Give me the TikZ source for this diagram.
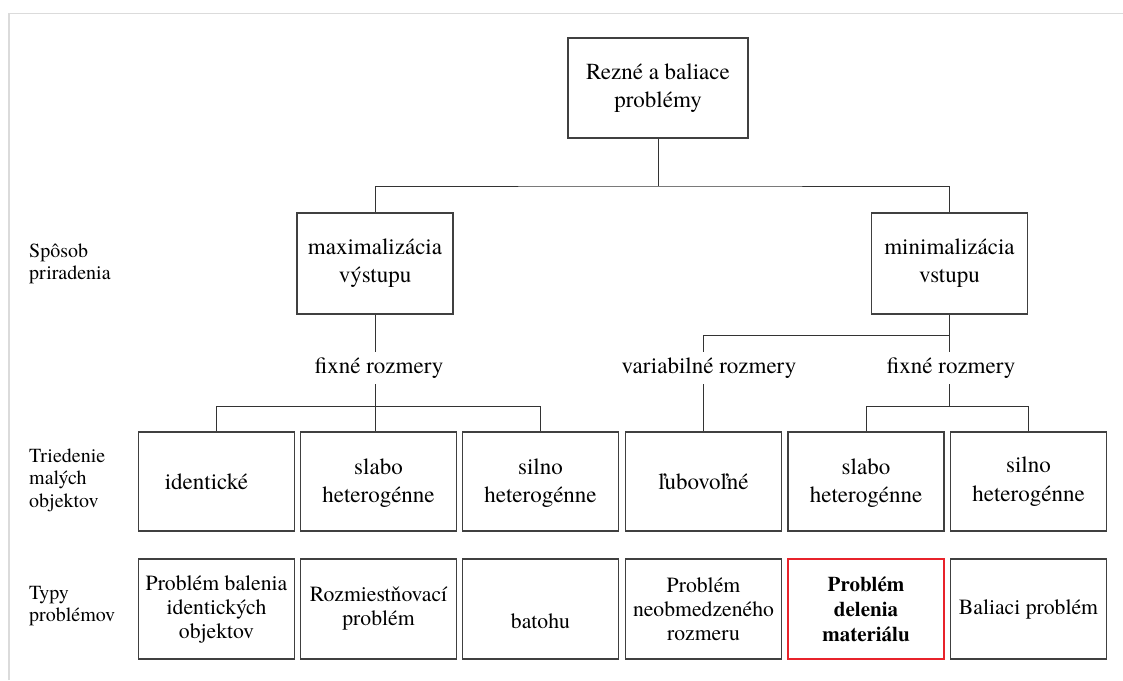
\documentclass[tikz,border=0pt]{standalone}
\usepackage{fontspec}
\setmainfont{texgyretermes}[Extension=.otf, UprightFont=*-regular, BoldFont=*-bold, ItalicFont=*-italic, BoldItalicFont=*-bolditalic]
\begin{document}
\begin{tikzpicture}[x=1pt,y=-1pt,
  box/.style={draw=black!75, line width=1.1pt, inner sep=0pt, align=center, text=black},
  bigbox/.style={box, minimum width=156pt, minimum height=101pt, font=\fontsize{23}{28}\selectfont},
  rowa/.style={box, minimum width=156pt, minimum height=99pt, font=\fontsize{23}{28.5}\selectfont},
  rowb/.style={box, minimum width=156pt, minimum height=100pt, font=\fontsize{21.7}{24}\selectfont},
  hibox/.style={rowb, draw={rgb,255:red,232;green,35;blue,43}, line width=2.4pt, font=\bfseries\fontsize{21}{25}\selectfont},
  lbl/.style={inner sep=0pt, minimum height=32pt, font=\fontsize{23}{28}\selectfont},
  side/.style={inner sep=0pt, anchor=west, align=left, font=\fontsize{20}{22.5}\selectfont},
  conn/.style={draw=black!80, line width=1pt}
]
\useasboundingbox (0,0) rectangle (1123,680);
\draw[black!14, line width=1.6pt] (9,680) -- (9,13.5) -- (1123,13.5);

% nodes
\node[box, minimum width=180pt, minimum height=100pt, font=\fontsize{23}{28}\selectfont] (root) at (658,88) {Rezné a baliace\\problémy};
\node[bigbox] (max) at (375,263.5) {maximalizácia\\výstupu};
\node[bigbox] (min) at (949.5,263.5) {minimalizácia\\vstupu};

\node[lbl] (fixL) at (379,368) {fixné rozmery};
\node[lbl] (varL) at (709,368) {variabilné rozmery};
\node[lbl] (fixR) at (951,368) {fixné rozmery};

\node[rowa] (a1) at (216.5,481.5) {\hspace*{-20pt}\raisebox{-1.5pt}{identické}};
\node[rowa] (a2) at (378.5,481.5) {slabo\\heterogénne\\[-26.5pt]\mbox{}};
\node[rowa] (a3) at (540.5,481.5) {silno\\heterogénne\\[-26.5pt]\mbox{}};
\node[rowa] (a4) at (703.5,481.5) {\raisebox{-1.5pt}{ľubovoľné}};
\node[rowa] (a5) at (866,481.5) {slabo\\heterogénne\\[-26.5pt]\mbox{}};
\node[rowa] (a6) at (1028.5,481.5) {silno\\heterogénne\\[-24pt]\mbox{}};

\node[rowb] (b1) at (216.5,609) {Problém balenia\\identických\\objektov};
\node[rowb] (b2) at (378.5,609) {Rozmiestňovací\\problém};
\node[rowb] (b3) at (540.5,609) {\smash{\raisebox{-19pt}{batohu}}};
\node[rowb] (b4) at (703.5,609) {Problém\\neobmedzeného\\rozmeru};
\node[hibox] (b5) at (866,609) {Problém\\delenia\\materiálu};
\node[rowb] (b6) at (1028.5,609) {Baliaci problém};

\node[side] (s1) at (29,264) {Spôsob\\priradenia};
\node[side] (s2) at (29,480) {Triedenie\\malých\\objektov};
\node[side] (s3) at (29,606) {Typy\\problémov};

% connectors
\coordinate (j1) at (root.south |- 0,186);
\draw[conn] (root.south) -- (j1);
\draw[conn] (max.north) |- (j1) -| (min.north);

\draw[conn] (max.south) -- (max.south |- fixL.north);
\draw[conn] (max.south |- fixL.south) -- (max.south |- a2.north);
\draw[conn] (a1.north) -- ++(0,-25) -| (a3.north);

\coordinate (j2) at (min.south |- 0,335);
\draw[conn] (min.south) -- (min.south |- fixR.north);
\draw[conn] (j2) -| (a4.north |- varL.north);
\draw[conn] (a4.north |- varL.south) -- (a4.north);
\draw[conn] (min.south |- fixR.south) -- (min.south |- 0,407);
\draw[conn] (a5.north) -- ++(0,-25) -| (a6.north);
\end{tikzpicture}
\end{document}
